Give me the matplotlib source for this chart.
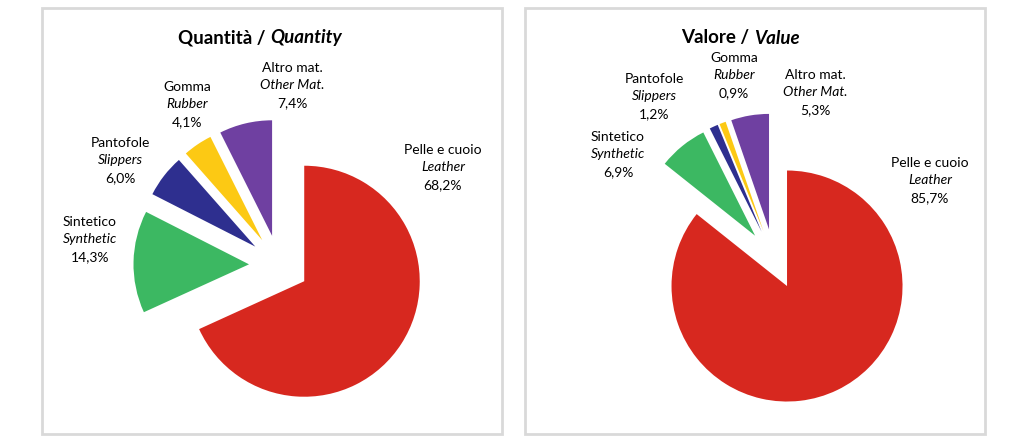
import matplotlib
matplotlib.use("Agg")
import matplotlib.pyplot as plt
from matplotlib.patches import Rectangle

plt.rcParams["font.family"] = ["Lato", "DejaVu Sans"]

# Data
labels_it = ["Pelle e cuoio", "Sintetico", "Pantofole", "Gomma", "Altro mat."]
labels_en = ["Leather", "Synthetic", "Slippers", "Rubber", "Other Mat."]
quantity = [68.2, 14.3, 6.0, 4.1, 7.4]
value = [85.7, 6.9, 1.2, 0.9, 5.3]
titles_it = ["Quantità", "Valore"]
titles_en = ["Quantity", "Value"]

COLORS = ["#d7281f", "#3cb862", "#2e2f8f", "#fcc914", "#6f40a1"]
# every slice pulled out; explode is in data units (pixels here)
EXPLODE = [30, 30, 30, 30, 30]

W, H = 1024, 440
fig = plt.figure(figsize=(W / 100, H / 100), dpi=100)
ax = fig.add_axes([0, 0, 1, 1])

# layout per panel: frame box, pie center, title x, label anchors (x, top y)
panels = [
    dict(data=quantity, box=(42, 8, 460, 426), center=(279, 265), title_x=270,
         lab=[(443, 150), (90, 222), (120, 143), (187, 87), (292, 68)]),
    dict(data=value, box=(525, 8, 460, 426), center=(774, 259), title_x=754,
         lab=[(930, 163), (618, 137), (654, 79), (734, 58), (815, 75)]),
]

for i, p in enumerate(panels):
    x0, y0, w, h = p["box"]
    ax.add_patch(Rectangle((x0, y0), w, h, fill=False, edgecolor="#d9d9d9",
                           linewidth=2))
    # y axis is inverted, so counterclock=True with startangle=-90 draws
    # clockwise from the top on screen
    ax.pie(p["data"], colors=COLORS, explode=EXPLODE, startangle=-90,
           counterclock=True, radius=115.5, center=p["center"],
           wedgeprops=dict(linewidth=0), frame=True)

    t_it = titles_it[i] + " / "
    ax.text(p["title_x"], 38, t_it, fontsize=13.5, fontweight="bold",
            ha="right", va="center")
    ax.text(p["title_x"], 38, titles_en[i], fontsize=13.5, fontweight="bold",
            fontstyle="italic", ha="left", va="center")

    for k, (lx, ly) in enumerate(p["lab"]):
        pct = f"{p['data'][k]:.1f}%".replace(".", ",")
        ax.text(lx, ly, labels_it[k], fontsize=10, ha="center", va="center")
        ax.text(lx, ly + 17, labels_en[k], fontsize=10, fontstyle="italic",
                ha="center", va="center")
        ax.text(lx, ly + 35, pct, fontsize=10, ha="center", va="center")

ax.set_xlim(0, W)
ax.set_ylim(H, 0)
ax.set_aspect("equal")
ax.axis("off")

fig.savefig("out.png", dpi=100, facecolor="white")
